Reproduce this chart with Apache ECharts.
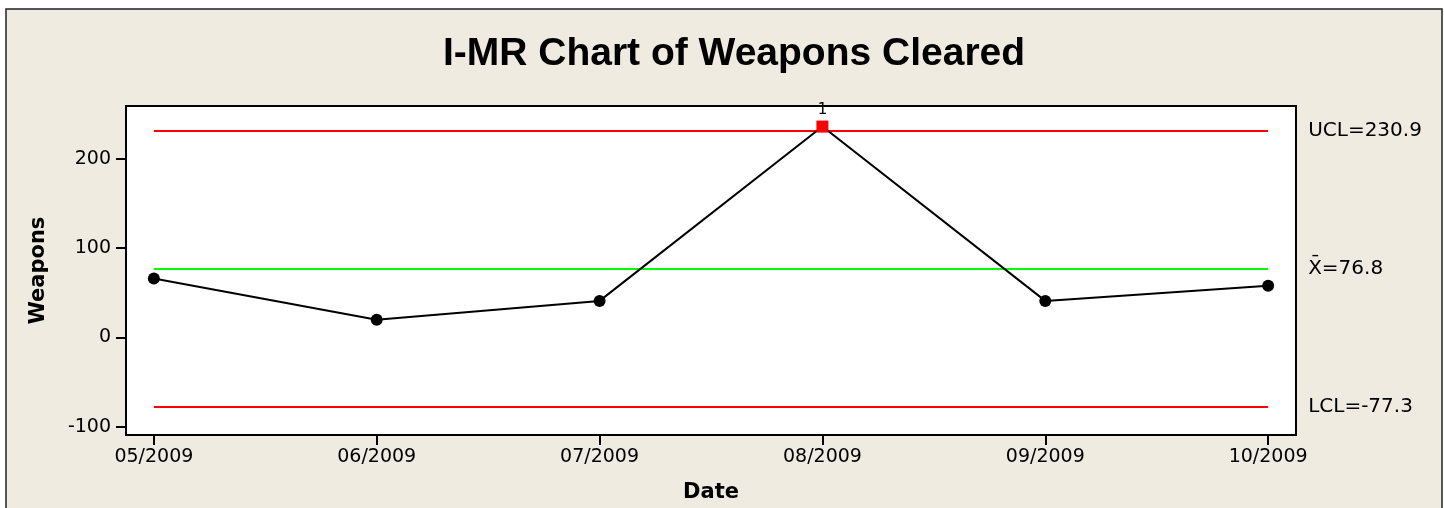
<!DOCTYPE html>
<html>
<head>
<meta charset="utf-8">
<script src="https://cdn.jsdelivr.net/npm/echarts@6/dist/echarts.min.js"></script>
<style>
  html, body { margin: 0; padding: 0; background: #fff; }
  #myChart { width: 1444px; height: 508px; }
</style>
</head>
<body>
<div id="myChart"></div>
<script>
// data
const dates = ["05/2009", "06/2009", "07/2009", "08/2009", "09/2009", "10/2009"];
const weapons = [66, 20, 41, 236, 41, 58];
const ucl = 230.9;
const mean = 76.8;
const lcl = -77.3;
const yTicks = [-100, 0, 100, 200];

let myChart = echarts.init(document.getElementById("myChart"));

const font = "DejaVu Sans";
const xIdx = dates.map((d, i) => i);

// points beyond the limits get the red square + test number
const points = weapons.map((v, i) => {
  if (v > ucl || v < lcl) {
    return {
      value: [i, v],
      symbol: "rect",
      symbolSize: 12,
      itemStyle: { color: "#ff0000" },
      label: { show: true, position: "top", distance: 3, formatter: "1",
        color: "#000", fontSize: 15, fontFamily: font }
    };
  }
  return [i, v];
});

function limitLine(val, color, text) {
  return [
    { coord: [0, val], lineStyle: { color: color, width: 2, type: "solid" },
      label: { formatter: text } },
    { coord: [dates.length - 1, val] }
  ];
}

let option = {
  backgroundColor: "#fff",
  animation: false,
  graphic: [{
    type: "rect",
    z: -10,
    shape: { x: 6, y: 9, width: 1436, height: 520 },
    style: { fill: "#efebe1", stroke: "#222", lineWidth: 1.5 }
  }],
  title: {
    text: "I-MR Chart of Weapons Cleared",
    left: 729,
    textAlign: "center",
    top: 30,
    textStyle: { fontFamily: "Liberation Sans", fontWeight: "bold", fontSize: 39, color: "#000" }
  },
  grid: {
    left: 126, right: 148, top: 106, bottom: 71,
    show: true, backgroundColor: "#fff", borderColor: "#000", borderWidth: 2
  },
  xAxis: {
    type: "value",
    min: -0.125,
    max: dates.length - 1 + 0.125,
    name: "Date",
    nameLocation: "middle",
    nameGap: 47,
    nameTextStyle: { fontFamily: font, fontWeight: "bold", fontSize: 21, color: "#000" },
    axisLine: { show: true, onZero: false, lineStyle: { color: "#000", width: 2 } },
    axisTick: { show: true, customValues: xIdx, length: 10, lineStyle: { color: "#000", width: 2 } },
    axisLabel: { customValues: xIdx, formatter: v => dates[v], margin: 13,
      fontFamily: font, fontSize: 19, color: "#000" },
    splitLine: { show: false }
  },
  yAxis: {
    type: "value",
    min: -109,
    max: 259,
    name: "Weapons",
    nameLocation: "middle",
    nameGap: 77,
    nameTextStyle: { fontFamily: font, fontWeight: "bold", fontSize: 21, color: "#000" },
    axisLine: { show: true, onZero: false, lineStyle: { color: "#000", width: 2 } },
    axisTick: { show: true, customValues: yTicks, length: 10, lineStyle: { color: "#000", width: 2 } },
    axisLabel: { customValues: yTicks, margin: 15, fontFamily: font, fontSize: 19, color: "#000" },
    splitLine: { show: false }
  },
  series: [{
    type: "line",
    data: points,
    symbol: "circle",
    symbolSize: 12,
    itemStyle: { color: "#000" },
    lineStyle: { color: "#000", width: 2 },
    z: 5,
    markLine: {
      silent: true,
      symbol: ["none", "none"],
      z: 1,
      label: { position: "end", distance: 40, fontFamily: font, fontSize: 20, color: "#000" },
      data: [
        limitLine(ucl, "#ff0000", "UCL=" + ucl),
        limitLine(mean, "#00ff00", "X\u0304=" + mean),
        limitLine(lcl, "#ff0000", "LCL=" + lcl)
      ]
    }
  }]
};

myChart.setOption(option);
</script>
</body>
</html>
